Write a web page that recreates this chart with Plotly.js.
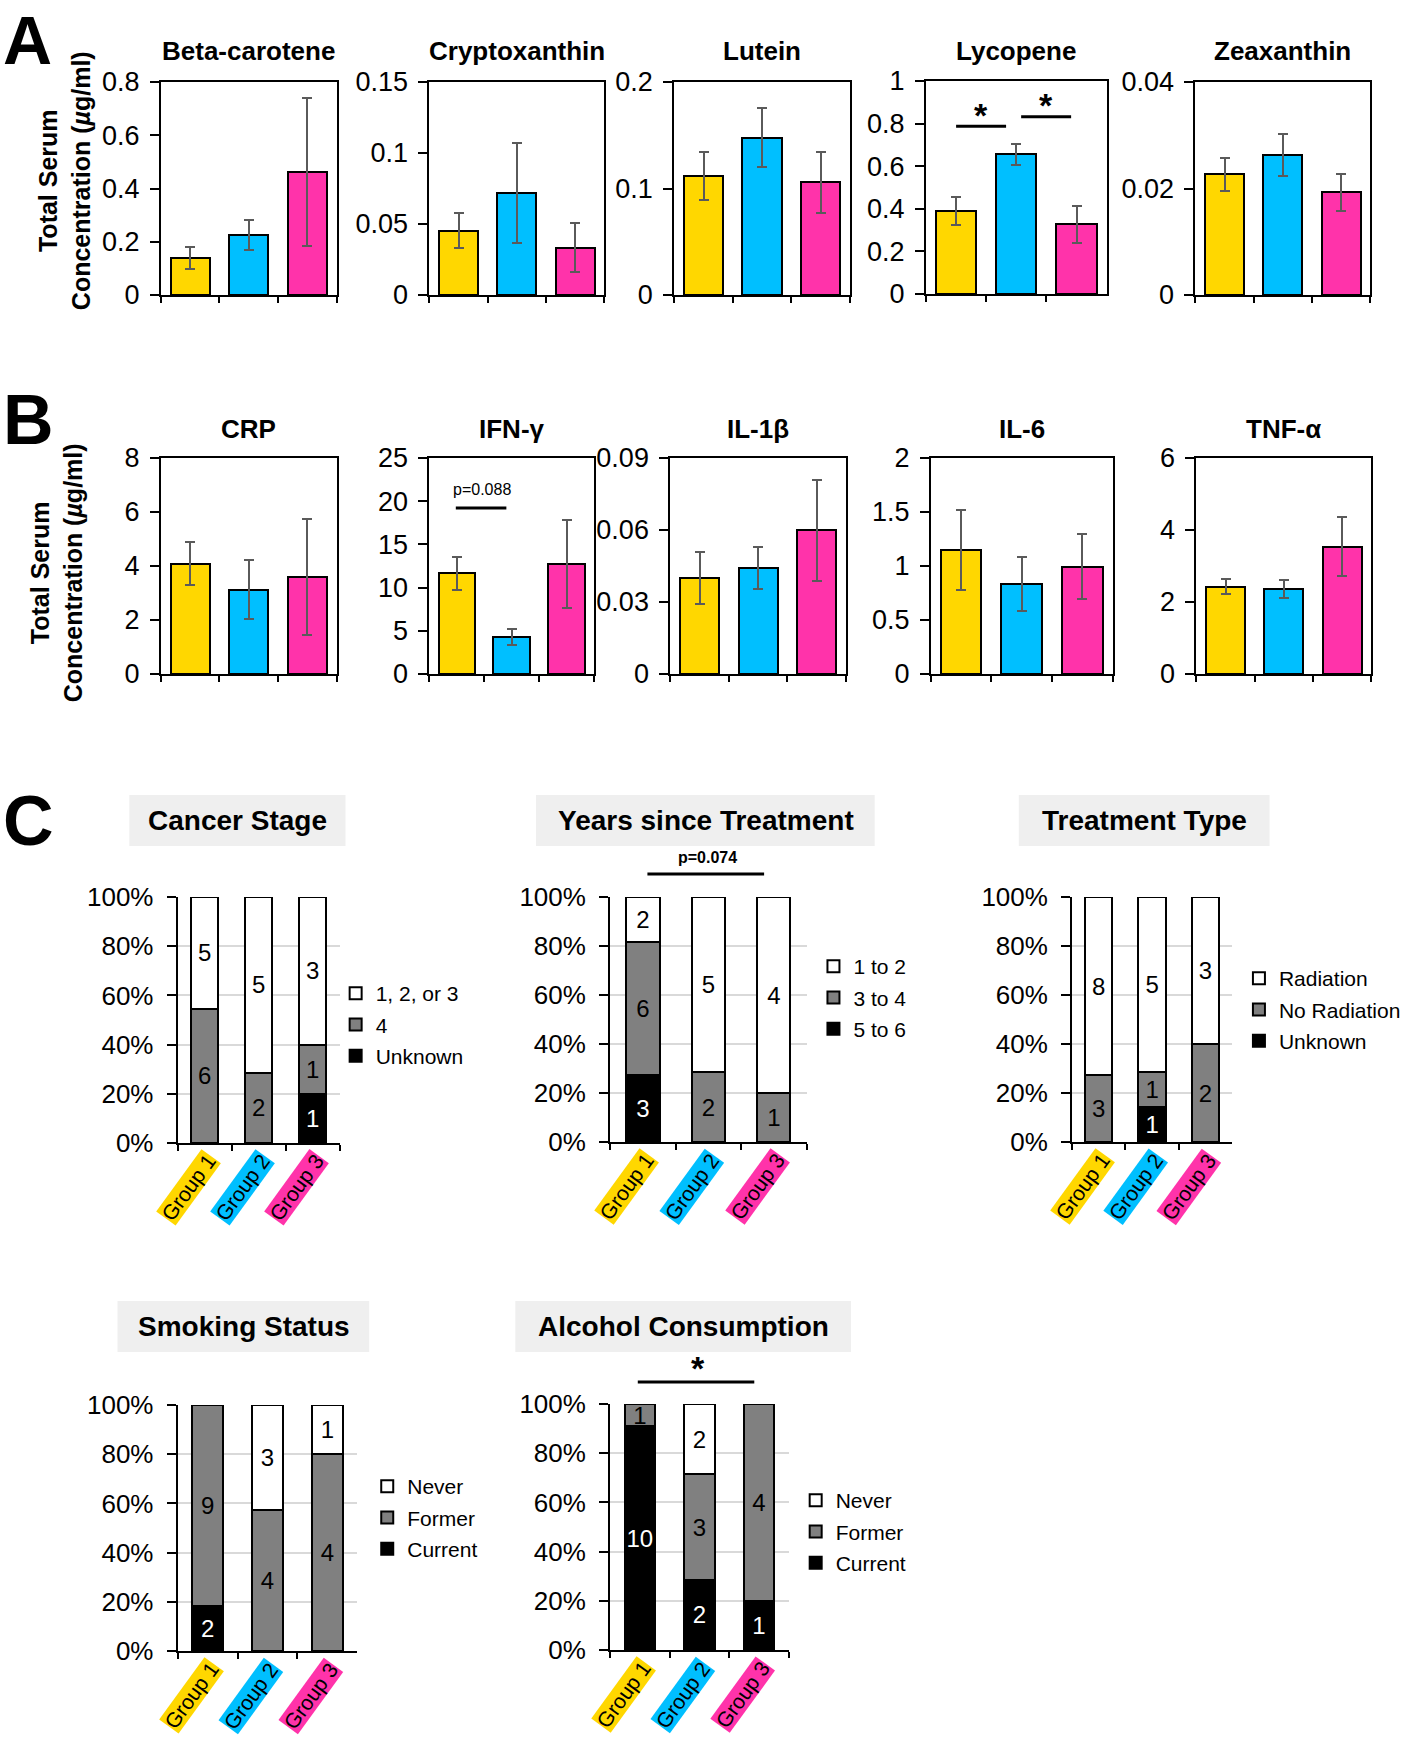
<!DOCTYPE html>
<html>
<head>
<meta charset="utf-8">
<script src="https://cdn.plot.ly/plotly-3.0.1.min.js"></script>
<style>html,body{margin:0;padding:0;background:#fff;}#chart{width:1406px;height:1737px;}</style>
</head>
<body>
<div id="chart"></div>
<script>
// ---------- DATA ----------
const groups = ["Group 1", "Group 2", "Group 3"];
const groupColors = ["#FFD700", "#00BFFF", "#FF33AA"];

// Panel A: serum carotenoids (mean, error)
const betaCarotene = [0.140, 0.226, 0.463];
const betaCaroteneErr = [0.042, 0.056, 0.278];
const cryptoxanthin = [0.0454, 0.0719, 0.0334];
const cryptoxanthinErr = [0.0123, 0.035, 0.0172];
const lutein = [0.1117, 0.1476, 0.106];
const luteinErr = [0.0225, 0.0277, 0.0287];
const lycopene = [0.388, 0.655, 0.327];
const lycopeneErr = [0.066, 0.051, 0.086];
const zeaxanthin = [0.0227, 0.0263, 0.0193];
const zeaxanthinErr = [0.0031, 0.0040, 0.0035];

// Panel B: inflammatory markers (mean, error)
const crp = [4.09, 3.12, 3.60];
const crpErr = [0.79, 1.10, 2.15];
const ifnG = [11.67, 4.29, 12.75];
const ifnGErr = [1.90, 0.93, 5.08];
const il1b = [0.0399, 0.0442, 0.0599];
const il1bErr = [0.0108, 0.0086, 0.021];
const il6 = [1.151, 0.833, 0.994];
const il6Err = [0.37, 0.25, 0.30];
const tnfA = [2.43, 2.36, 3.54];
const tnfAErr = [0.22, 0.24, 0.82];

// Panel C: counts per group
const stageLabels = ["1, 2, or 3", "4", "Unknown"];
const stage123 = [5, 5, 3];
const stage4 = [6, 2, 1];
const stageUnknown = [0, 0, 1];

const yearsLabels = ["1 to 2", "3 to 4", "5 to 6"];
const years1to2 = [2, 5, 4];
const years3to4 = [6, 2, 1];
const years5to6 = [3, 0, 0];

const treatLabels = ["Radiation", "No Radiation", "Unknown"];
const radiation = [8, 5, 3];
const noRadiation = [3, 1, 2];
const treatUnknown = [0, 1, 0];

const smokeLabels = ["Never", "Former", "Current"];
const smokeNever = [0, 3, 1];
const smokeFormer = [9, 4, 4];
const smokeCurrent = [2, 0, 0];

const alcoholLabels = ["Never", "Former", "Current"];
const alcoholNever = [0, 2, 0];
const alcoholFormer = [1, 3, 4];
const alcoholCurrent = [10, 2, 1];

// ---------- LAYOUT HELPERS ----------
const W = 1406, H = 1737;
const FONT = "Liberation Sans, Arial, Helvetica, sans-serif";
const xd = (a, b) => [a / W, b / W];
const yd = (t, b) => [1 - b / H, 1 - t / H];
const py = p => 1 - p / H;
const px = p => p / W;

const data = [];
const layout = {
  width: W, height: H,
  margin: {l: 0, r: 0, t: 0, b: 0},
  paper_bgcolor: "#fff", plot_bgcolor: "rgba(0,0,0,0)",
  font: {family: FONT, color: "#000"},
  barmode: "stack",
  showlegend: true,
  annotations: [], shapes: []
};

function axName(i, l) { return i === 1 ? l + "axis" : l + "axis" + i; }
function ref(i, l) { return i === 1 ? l : l + i; }

// Bar panels (A, B)
const barPanels = [
  {title: "Beta-carotene", y: betaCarotene, e: betaCaroteneErr, max: 0.8, dt: 0.2, box: [163, 341, 82, 295], ty: 51},
  {title: "Cryptoxanthin", y: cryptoxanthin, e: cryptoxanthinErr, max: 0.15, dt: 0.05, box: [435, 612, 82, 295], ty: 51},
  {title: "Lutein", y: lutein, e: luteinErr, max: 0.2, dt: 0.1, box: [683, 861, 82, 295], ty: 51},
  {title: "Lycopene", y: lycopene, e: lycopeneErr, max: 1, dt: 0.2, box: [938, 1121, 81, 294], ty: 51},
  {title: "Zeaxanthin", y: zeaxanthin, e: zeaxanthinErr, max: 0.04, dt: 0.02, box: [1211, 1388, 82, 295], ty: 51},
  {title: "CRP", y: crp, e: crpErr, max: 8, dt: 2, box: [163, 341, 458, 674], ty: 429},
  {title: "IFN-γ", y: ifnG, e: ifnGErr, max: 25, dt: 5, box: [435, 602, 458, 674], ty: 429},
  {title: "IL-1β", y: il1b, e: il1bErr, max: 0.09, dt: 0.03, box: [679, 857, 458, 674], ty: 429},
  {title: "IL-6", y: il6, e: il6Err, max: 2, dt: 0.5, box: [943, 1127, 458, 674], ty: 429},
  {title: "TNF-α", y: tnfA, e: tnfAErr, max: 6, dt: 2, box: [1212, 1389, 458, 674], ty: 429}
];

barPanels.forEach((p, k) => {
  const i = k + 1;
  data.push({
    type: "bar", x: groups, y: p.y, width: 0.67,
    xaxis: ref(i, "x"), yaxis: ref(i, "y"), showlegend: false,
    marker: {color: groupColors, line: {color: "#000", width: 2}},
    error_y: {type: "data", array: p.e, visible: true, color: "#5a5a5a", thickness: 2, width: 5},
    hoverinfo: "skip"
  });
  layout[axName(i, "x")] = {
    domain: xd(p.box[0], p.box[1]), anchor: ref(i, "y"), type: "category",
    range: [-0.5, 2.5], showticklabels: false, ticks: "outside", tickson: "boundaries",
    ticklen: 6, tickwidth: 2, tickcolor: "#000", showline: true, linewidth: 2, linecolor: "#000",
    mirror: true, showgrid: false, zeroline: false, fixedrange: true
  };
  layout[axName(i, "y")] = {
    domain: yd(p.box[2], p.box[3]), anchor: ref(i, "x"),
    range: [0, p.max], dtick: p.dt, tick0: 0, ticks: "outside", ticklen: 9, tickwidth: 2, tickcolor: "#000",
    showline: true, linewidth: 2, linecolor: "#000", mirror: true, showgrid: false, zeroline: false,
    ticklabelstandoff: 5, tickfont: {size: 27, family: FONT}, fixedrange: true
  };
  layout.annotations.push({
    xref: ref(i, "x") + " domain", yref: "paper", x: 0.5, y: py(p.ty), xanchor: "center", yanchor: "middle",
    text: "<b>" + p.title + "</b>", showarrow: false, font: {size: 26, family: FONT}
  });
});

// Stacked panels (C)
const stackPanels = [
  {title: "Cancer Stage", labels: stageLabels, series: [stage123, stage4, stageUnknown],
   box: [180, 344, 897, 1143], tbox: [131, 350, 795, 846], tx: 241, legend: [340, 973]},
  {title: "Years since Treatment", labels: yearsLabels, series: [years1to2, years3to4, years5to6],
   box: [618, 817, 897, 1142], tbox: [543, 886, 795, 846], tx: 715, legend: [824, 946]},
  {title: "Treatment Type", labels: treatLabels, series: [radiation, noRadiation, treatUnknown],
   box: [1086, 1248, 897, 1142], tbox: [1032, 1286, 795, 846], tx: 1159, legend: [1255, 958]},
  {title: "Smoking Status", labels: smokeLabels, series: [smokeNever, smokeFormer, smokeCurrent],
   box: [180, 362, 1405, 1651], tbox: [119, 374, 1301, 1352], tx: 247, legend: [372, 1466]},
  {title: "Alcohol Consumption", labels: alcoholLabels, series: [alcoholNever, alcoholFormer, alcoholCurrent],
   box: [618, 799, 1404, 1650], tbox: [522, 862, 1301, 1352], tx: 692, legend: [806, 1480]}
];
const segFill = ["#ffffff", "#808080", "#000000"];
const segText = ["#000", "#000", "#fff"];

stackPanels.forEach((p, k) => {
  const i = k + 11;
  const legName = k === 0 ? "legend" : "legend" + (k + 1);
  const totals = groups.map((g, j) => p.series.reduce((s, arr) => s + arr[j], 0));
  // draw bottom (black) first, then gray, then white on top
  [2, 1, 0].forEach(s => {
    const counts = p.series[s];
    data.push({
      type: "bar", x: groups, y: counts.map((c, j) => c / totals[j] * 100), width: 0.51,
      xaxis: ref(i, "x"), yaxis: ref(i, "y"), name: p.labels[s], legend: legName,
      legendgroup: "g" + k + "_" + s, legendrank: s + 1,
      marker: {color: segFill[s], line: {color: "#000", width: 2}},
      text: counts.map(c => c > 0 ? String(c) : ""), textposition: "inside", insidetextanchor: "middle",
      textangle: 0, constraintext: "none",
      textfont: {size: 24, color: segText[s], family: FONT}, hoverinfo: "skip"
    });
  });
  layout[legName] = {
    x: px(p.legend[0]), y: py(p.legend[1]), xanchor: "left", yanchor: "top",
    traceorder: "grouped", tracegroupgap: 1, bgcolor: "rgba(0,0,0,0)",
    font: {size: 21, family: FONT}, itemclick: false, itemdoubleclick: false
  };
  layout[axName(i, "x")] = {
    domain: xd(p.box[0], p.box[1]), anchor: ref(i, "y"), type: "category",
    range: [-0.5, 2.5], showticklabels: false, ticks: "outside", tickson: "boundaries",
    ticklen: 6, tickwidth: 2, tickcolor: "#000", showline: true, linewidth: 2, linecolor: "#000",
    showgrid: false, zeroline: false, fixedrange: true
  };
  layout[axName(i, "y")] = {
    domain: yd(p.box[2], p.box[3]), anchor: ref(i, "x"),
    range: [0, 100], dtick: 20, ticksuffix: "%", ticks: "outside", ticklen: 9, tickwidth: 2, tickcolor: "#000",
    showline: true, linewidth: 2, linecolor: "#000", showgrid: true, gridcolor: "#d9d9d9", gridwidth: 2,
    zeroline: false, ticklabelstandoff: 8, tickfont: {size: 26, family: FONT}, fixedrange: true
  };
  layout.shapes.push({
    type: "rect", xref: "paper", yref: "paper", layer: "below",
    x0: px(p.tbox[0]), x1: px(p.tbox[1]), y0: py(p.tbox[3]), y1: py(p.tbox[2]),
    fillcolor: "#efefef", line: {width: 0}
  });
  layout.annotations.push({
    xref: "paper", yref: "paper", x: px(p.tx), y: py((p.tbox[2] + p.tbox[3]) / 2),
    xanchor: "center", yanchor: "middle", text: "<b>" + p.title + "</b>", showarrow: false,
    font: {size: 28, family: FONT}
  });
  groups.forEach((g, j) => {
    layout.annotations.push({
      xref: ref(i, "x"), yref: ref(i, "y") + " domain", x: j, y: 0, xshift: 17, yshift: -6,
      xanchor: "right", yanchor: "top", textangle: -54, text: g, showarrow: false,
      bgcolor: groupColors[j], borderpad: 0, font: {size: 21, family: FONT}
    });
  });
});

// Y-axis titles for A and B
[[66, 181], [57, 573]].forEach(c => {
  layout.annotations.push({
    xref: "paper", yref: "paper", x: px(c[0]), y: py(c[1]), xanchor: "center", yanchor: "middle",
    textangle: -90, showarrow: false, font: {size: 25, family: FONT},
    text: "<b>Total Serum<br>Concentration (<i>µ</i>g/ml)</b>"
  });
});

// Panel letters
layout.annotations.push({
  xref: "paper", yref: "paper", x: px(1), y: 1, xanchor: "left", yanchor: "top",
  text: "<b>A</b>", showarrow: false, font: {size: 68, family: FONT}, yshift: 0
});
[["B", 420], ["C", 821]].forEach(l => {
  layout.annotations.push({
    xref: "paper", yref: "paper", x: px(1), y: py(l[1]), xanchor: "left", yanchor: "middle",
    text: "<b>" + l[0] + "</b>", showarrow: false, font: {size: 70, family: FONT}
  });
});

// Significance marks: Lycopene
layout.shapes.push({type: "line", xref: "x4", yref: "y4", x0: 0.0, x1: 0.83, y0: 0.788, y1: 0.788, line: {color: "#000", width: 3}});
layout.shapes.push({type: "line", xref: "x4", yref: "y4", x0: 1.08, x1: 1.91, y0: 0.832, y1: 0.832, line: {color: "#000", width: 3}});
layout.annotations.push({xref: "x4", yref: "y4", x: 0.42, y: 0.79, yanchor: "bottom", text: "<b>*</b>", showarrow: false, font: {size: 34}, yshift: -10});
layout.annotations.push({xref: "x4", yref: "y4", x: 1.5, y: 0.834, yanchor: "bottom", text: "<b>*</b>", showarrow: false, font: {size: 34}, yshift: -10});
// IFN-gamma
layout.shapes.push({type: "line", xref: "x7", yref: "y7", x0: -0.02, x1: 0.9, y0: 19.2, y1: 19.2, line: {color: "#000", width: 3}});
layout.annotations.push({xref: "x7", yref: "y7", x: 0.45, y: 21.3, yanchor: "middle", text: "p=0.088", showarrow: false, font: {size: 16}});
// Years since treatment
layout.shapes.push({type: "line", xref: "x12 domain", yref: "y12 domain", x0: 0.19, x1: 0.784, y0: 1.094, y1: 1.094, line: {color: "#000", width: 3}});
layout.annotations.push({xref: "x12 domain", yref: "y12 domain", x: 0.497, y: 1.163, yanchor: "middle", text: "<b>p=0.074</b>", showarrow: false, font: {size: 16}});
// Alcohol
layout.shapes.push({type: "line", xref: "x15 domain", yref: "y15 domain", x0: 0.155, x1: 0.807, y0: 1.089, y1: 1.089, line: {color: "#000", width: 3}});
layout.annotations.push({xref: "x15 domain", yref: "y15 domain", x: 0.49, y: 1.095, yanchor: "bottom", text: "<b>*</b>", showarrow: false, font: {size: 34}, yshift: -8});

Plotly.newPlot("chart", data, layout, {staticPlot: true, displayModeBar: false});
</script>
</body>
</html>
